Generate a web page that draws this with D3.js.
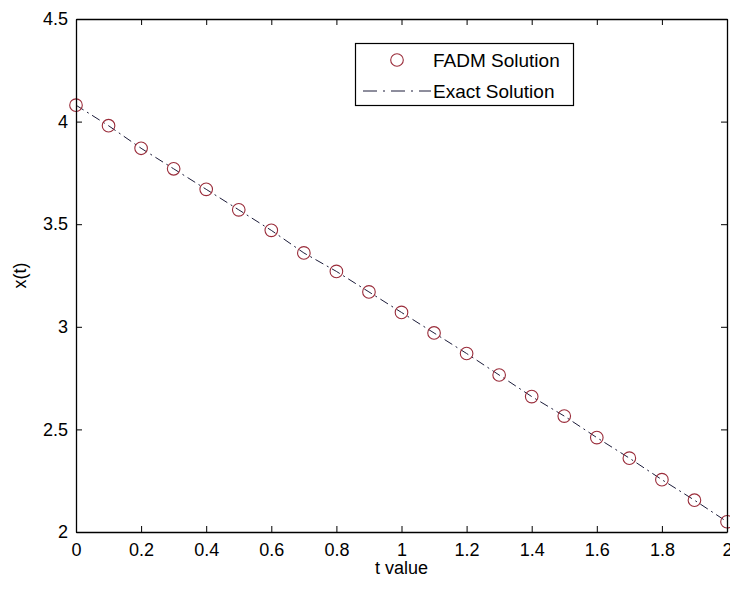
<!DOCTYPE html>
<html>
<head>
<meta charset="utf-8">
<script src="https://cdn.jsdelivr.net/npm/d3@7"></script>
<style>
  html, body { margin: 0; padding: 0; background: #fff; }
  svg { display: block; }
  text { font-family: "Liberation Sans", Arial, Helvetica, sans-serif; fill: #000; }
</style>
</head>
<body>
<svg id="chart" width="730" height="589"></svg>
<script>
// Time samples and solution values
const tValues = [0, 0.1, 0.2, 0.3, 0.4, 0.5, 0.6, 0.7, 0.8, 0.9, 1.0,
                 1.1, 1.2, 1.3, 1.4, 1.5, 1.6, 1.7, 1.8, 1.9, 2.0];
const fadmValues = [4.08, 3.98, 3.87, 3.77, 3.67, 3.57, 3.47, 3.36, 3.27, 3.17, 3.07,
                    2.97, 2.87, 2.765, 2.66, 2.565, 2.46, 2.36, 2.255, 2.155, 2.05];
const exactValues = [4.08, 3.98, 3.87, 3.77, 3.67, 3.57, 3.47, 3.36, 3.27, 3.17, 3.07,
                     2.97, 2.87, 2.765, 2.66, 2.565, 2.46, 2.36, 2.255, 2.155, 2.05];
const xTicks = [0, 0.2, 0.4, 0.6, 0.8, 1, 1.2, 1.4, 1.6, 1.8, 2];
const yTicks = [2, 2.5, 3, 3.5, 4, 4.5];
const legendLabels = ["FADM Solution", "Exact Solution"];

const svg = d3.select("#chart");
const L = 76, R = 727, T = 19, B = 532;
const fs = 18;

const x = d3.scaleLinear().domain([0, 2]).range([L, R]);
const y = d3.scaleLinear().domain([2, 4.5]).range([B, T]);

const markColor = "#9a2c3a";
const lineColor = "#1c1c3a";

// exact solution: dash-dot line
svg.append("path")
  .datum(tValues.map((t, i) => [t, exactValues[i]]))
  .attr("fill", "none")
  .attr("stroke", lineColor)
  .attr("stroke-width", 1)
  .attr("stroke-dasharray", "9,4,2,4")
  .attr("d", d3.line().x(d => x(d[0])).y(d => y(d[1])));

// FADM solution: open circles
svg.append("g").selectAll("circle")
  .data(tValues.map((t, i) => [t, fadmValues[i]]))
  .join("circle")
  .attr("cx", d => x(d[0]))
  .attr("cy", d => y(d[1]))
  .attr("r", 6.3)
  .attr("fill", "none")
  .attr("stroke", markColor)
  .attr("stroke-width", 1.1);

// axes with inward ticks on all four sides
const fmt = d => d3.format("~g")(d);
const axB = svg.append("g").attr("transform", `translate(0,${B})`)
  .call(d3.axisBottom(x).tickValues(xTicks).tickFormat(fmt).tickSizeInner(-6).tickSizeOuter(0).tickPadding(11));
const axT = svg.append("g").attr("transform", `translate(0,${T})`)
  .call(d3.axisTop(x).tickValues(xTicks).tickFormat("").tickSizeInner(-6).tickSizeOuter(0));
const axL = svg.append("g").attr("transform", `translate(${L},0)`)
  .call(d3.axisLeft(y).tickValues(yTicks).tickFormat(fmt).tickSizeInner(-6).tickSizeOuter(0).tickPadding(8));
const axR = svg.append("g").attr("transform", `translate(${R},0)`)
  .call(d3.axisRight(y).tickValues(yTicks).tickFormat("").tickSizeInner(-6).tickSizeOuter(0));

[axB, axT, axL, axR].forEach(g => {
  g.select(".domain").attr("stroke", "#000").attr("stroke-width", 1.3);
  g.selectAll(".tick line").attr("stroke", "#000");
  g.selectAll("text").attr("font-size", fs).attr("font-family", "Liberation Sans, Arial, sans-serif");
});

// axis titles
svg.append("text")
  .attr("x", (L + R) / 2).attr("y", 574)
  .attr("text-anchor", "middle").attr("font-size", fs)
  .text("t value");
svg.append("text")
  .attr("transform", `translate(26,${(T + B) / 2}) rotate(-90)`)
  .attr("text-anchor", "middle").attr("font-size", fs)
  .text("x(t)");

// legend
const lg = svg.append("g");
lg.append("rect")
  .attr("x", 355.5).attr("y", 43.5).attr("width", 218).attr("height", 62)
  .attr("fill", "#fff").attr("stroke", "#000").attr("stroke-width", 1.2);
const rowY = [60, 91];
lg.append("circle").attr("cx", 397).attr("cy", rowY[0]).attr("r", 6.3)
  .attr("fill", "none").attr("stroke", markColor).attr("stroke-width", 1.1);
lg.append("line").attr("x1", 363).attr("x2", 431).attr("y1", rowY[1]).attr("y2", rowY[1])
  .attr("stroke", lineColor).attr("stroke-width", 1).attr("stroke-dasharray", "14,6,2,6");
lg.selectAll("text.lab").data(legendLabels).join("text")
  .attr("class", "lab")
  .attr("x", 433).attr("y", (d, i) => rowY[i])
  .attr("dy", "0.36em").attr("font-size", 19)
  .text(d => d);
</script>
</body>
</html>
